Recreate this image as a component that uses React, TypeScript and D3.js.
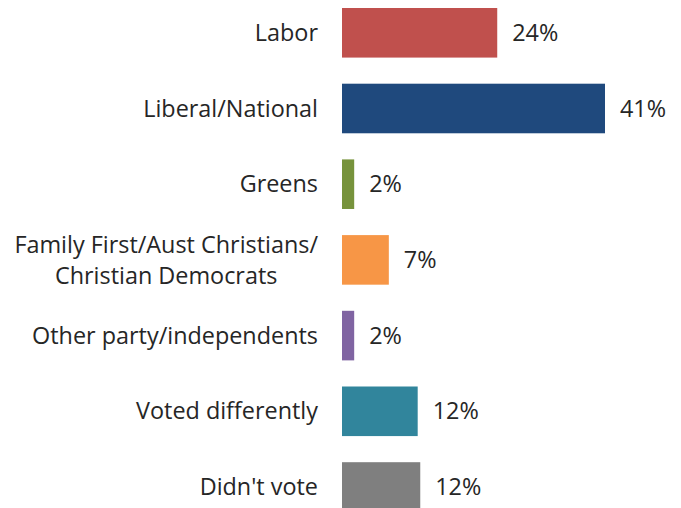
import React, { useEffect, useRef } from "react";
import * as d3 from "d3";

const categories: string[][] = [
  ["Labor"],
  ["Liberal/National"],
  ["Greens"],
  ["Family First/Aust Christians/", "Christian Democrats"],
  ["Other party/independents"],
  ["Voted differently"],
  ["Didn't vote"],
];
const values: number[] = [24.2, 41, 1.9, 7.3, 1.9, 11.8, 12.2];
const valueLabels: string[] = ["24%", "41%", "2%", "7%", "2%", "12%", "12%"];
const colors: string[] = ["#C0504D", "#1F497D", "#77933C", "#F79646", "#8064A2", "#31859C", "#7F7F7F"];

const W = 681;
const H = 508;
const FONT = "'Open Sans', 'Noto Sans', sans-serif";
const FS = 23.4;

export default function App() {
  const ref = useRef<SVGSVGElement>(null);
  useEffect(() => {
    const svg = d3.select(ref.current);
    svg.selectAll("*").remove();
    const x = d3.scaleLinear().domain([0, 41]).range([342, 605]);
    const step = 75.7;
    const p = 0.345;
    const r0 = 8 - (p / 2) * step;
    const y = d3
      .scaleBand<number>()
      .domain(d3.range(values.length))
      .range([r0, r0 + 7 * step])
      .paddingInner(p)
      .paddingOuter(p / 2);

    const g = svg.append("g");
    g.selectAll("rect")
      .data(values)
      .join("rect")
      .attr("x", x(0))
      .attr("y", (_, i) => y(i)!)
      .attr("width", (d) => x(d) - x(0))
      .attr("height", y.bandwidth())
      .attr("fill", (_, i) => colors[i]);

    g.selectAll("text.val")
      .data(values)
      .join("text")
      .attr("class", "val")
      .attr("x", (d) => x(d) + 15)
      .attr("y", (_, i) => y(i)! + y.bandwidth() / 2)
      .attr("dy", "0.35em")
      .attr("font-family", FONT)
      .attr("font-size", FS)
      .attr("fill", "#262626")
      .text((_, i) => valueLabels[i]);

    const lh = 31;
    const labelRight = 318;
    categories.forEach((lines, i) => {
      const cy = y(i)! + y.bandwidth() / 2;
      const t = g
        .append("text")
        .attr("text-anchor", "end")
        .attr("font-family", FONT)
        .attr("font-size", FS)
        .attr("fill", "#262626");
      const spans = lines.map((ln, j) =>
        t
          .append("tspan")
          .attr("x", labelRight)
          .attr("y", cy + (j - (lines.length - 1) / 2) * lh)
          .attr("dy", "0.35em")
          .text(ln)
      );
      if (lines.length > 1) {
        const maxW = d3.max(spans, (s) => (s.node() as SVGTSpanElement).getComputedTextLength()) || 0;
        t.attr("text-anchor", "middle");
        spans.forEach((s) => s.attr("x", labelRight - maxW / 2));
      }
    });
  }, []);
  return (
    <div style={{ position: "absolute", left: 0, top: 0, width: W, height: H, background: "#fff" }}>
      <svg ref={ref} width={W} height={H} style={{ display: "block" }} />
    </div>
  );
}
